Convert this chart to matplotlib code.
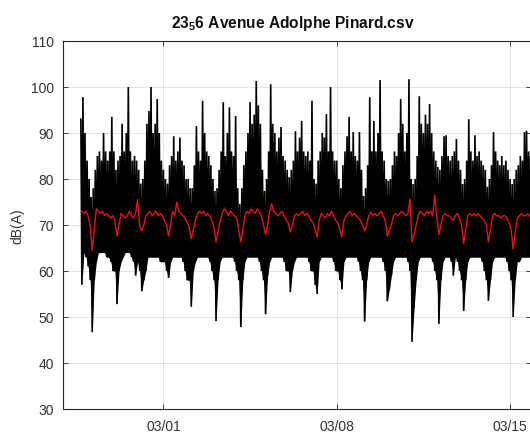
import matplotlib
matplotlib.use("Agg")
import matplotlib.pyplot as plt
import matplotlib.dates as mdates
import numpy as np
from datetime import datetime, timedelta

# ---------------- data (2-hour bins) ----------------
start_time = datetime(2019, 2, 25, 16, 0)
bin_hours = 2

# upper level reached in each 2-hour bin (dB(A))
peak_db = [
    93, 97.8, 90, 84,                                                   # 02/25 16h-22h
    80, 76, 78, 82, 85, 86, 84, 90, 86, 84, 86, 93.5,                   # 02/26
    86, 82, 84, 85, 92, 86, 90, 100, 86, 84, 85, 84,                    # 02/27
    82, 79, 80, 84, 92, 94.8, 100, 90, 92, 97.4, 90, 84,                # 02/28
    82, 80, 79, 83, 85, 89.3, 84, 86, 89, 84, 83, 80,                   # 03/01
    80, 78, 78, 83, 91.5, 86, 84, 97, 90, 86, 85, 83,                   # 03/02
    80, 77.4, 78, 82, 86, 96.7, 85, 90, 95.6, 86, 85, 93.7,             # 03/03
    78, 74.6, 78, 83, 86, 90, 96.7, 92, 94, 101.3, 96, 92,              # 03/04
    82, 77.4, 80, 86, 100.6, 92, 90, 86, 89, 91.3, 85, 84,              # 03/05
    82, 80.4, 82, 84, 90.4, 86, 89, 92.6, 86, 85, 86, 84,               # 03/06
    97, 80, 79, 84, 86, 90, 89, 94.1, 86, 100, 86, 84,                  # 03/07
    84, 80, 78, 83, 86, 89.3, 93.5, 86, 90.2, 85, 84, 90.2,             # 03/08
    82, 76.3, 78, 83, 97.8, 86, 92.6, 86, 90, 101.5, 86, 84,            # 03/09
    80, 79.6, 80, 83, 86, 85, 90, 97.4, 92, 86, 90, 101.7,              # 03/10
    80, 78.9, 80, 85, 98, 92, 90, 94, 92, 96.3, 90, 86,                 # 03/11
    84, 82.6, 82, 85, 89.3, 89.5, 85, 84, 85, 86, 88.7, 84,             # 03/12
    82, 78.9, 80, 84, 93, 86, 84, 89.5, 85, 86, 84, 83,                 # 03/13
    82, 78.3, 80, 83, 90.2, 86, 84, 83, 85, 83, 84, 82,                 # 03/14
    80, 78.9, 80, 82, 83, 85, 84, 90.2, 90.5, 86, 85,                   # 03/15 0h-20h
]

# lowest level in each 2-hour bin (dB(A))
low_db = [
    57, 64, 63, 61,
    58, 46.7, 58, 62, 64, 64, 64, 64, 63, 63, 62, 60,
    60, 52.8, 60, 62, 63, 64, 64, 64, 63, 62, 59, 62,
    60, 55.6, 58, 60, 63, 63, 63, 63, 63, 63, 62, 62,
    62, 60, 58.5, 62, 63, 63, 63, 63, 63, 62, 60, 58,
    58, 52.2, 60, 62, 63, 63, 63, 63, 63, 63, 62, 60,
    58, 49.1, 58, 62, 63, 63, 63, 63, 63, 63, 62, 60,
    58, 47.8, 58, 62, 63, 63, 63, 63, 63, 63, 62, 60,
    58, 50.6, 59, 62, 63, 63, 63, 63, 63, 63, 62, 60,
    60, 55.4, 60, 62, 63, 63, 63, 63, 63, 63, 62, 60,
    60, 57, 55, 62, 63, 63, 63, 63, 63, 63, 62, 60,
    60, 58, 56, 62, 63, 63, 63, 63, 63, 63, 62, 60,
    58, 49, 58, 62, 63, 63, 63, 63, 63, 63, 62, 60,
    53.4, 56, 59, 62, 63, 63, 63, 63, 63, 63, 62, 60,
    44.6, 52, 58, 62, 63, 63, 63, 63, 63, 63, 62, 60,
    58, 48.5, 58, 62, 63, 63, 63, 62, 59, 63, 62, 60,
    58, 51.3, 58, 62, 63, 63, 63, 63, 63, 63, 62, 60,
    58, 53.5, 58, 62, 63, 63, 63, 63, 63, 63, 62, 60,
    58, 50, 58, 62, 62, 63, 63, 63, 63, 63, 62,
]

# smoothed level (red curve) per 2-hour bin (dB(A))
mean_db = [
    73, 72.5, 73, 72,
    70, 64.5, 69, 73.5, 73, 72.5, 73, 72, 72.5, 72, 71.5, 72,
    71, 67.6, 70, 72.5, 72, 71.5, 72, 73, 72, 71.5, 72.5, 75.5,
    70, 68.7, 70, 72, 72.5, 73, 72, 72.5, 73, 72, 72.5, 72,
    71, 70, 67.6, 70, 73, 72, 75, 73, 72.5, 72, 71.5, 70.5,
    69.5, 67, 69, 71, 72.5, 73, 72.5, 73, 72, 72.5, 72, 71,
    69.5, 66.3, 68.5, 71, 72.5, 73.5, 73, 72, 73, 72.5, 72, 71.5,
    69, 66.3, 69, 72, 73, 72.5, 73.5, 73, 72.5, 73.5, 73, 72,
    70, 68, 70, 73, 74.6, 73, 72.5, 72, 72.5, 73, 72, 71,
    70.5, 68.5, 70, 72, 72.5, 72, 72.5, 73, 72, 72.5, 72, 71,
    70.5, 69, 67.4, 71, 72.5, 72, 71.5, 72.5, 72, 73, 72, 71,
    70.5, 69, 67.4, 71, 72, 72.5, 73, 72, 72.5, 72, 71.5, 71,
    70, 68.7, 70, 72, 72.8, 72, 72.5, 72, 72.3, 73, 72, 71,
    67.6, 69, 70, 72, 72.5, 72, 72.5, 73, 72.5, 72, 72.5, 75.7,
    66.3, 68, 70, 72, 73, 72.5, 72, 73, 72.5, 73, 72, 76.5,
    72, 67.9, 70, 72, 72.5, 72, 72, 71.5, 71, 72, 72.5, 71.5,
    70, 65.9, 69, 72, 72.5, 72, 72.5, 72, 72.5, 72, 71.5, 71,
    70, 66.3, 69, 72, 72.5, 72, 72, 71.5, 72, 72, 71.5, 70.5,
    69, 64.8, 68.5, 71.5, 72, 72.5, 72, 72, 72.5, 72, 71.5,
]

tick_dates = [datetime(2019, 3, 1), datetime(2019, 3, 8), datetime(2019, 3, 15)]
title_text = r"23$_{\mathbf{5}}$6 Avenue Adolphe Pinard.csv"
y_label = "dB(A)"

# ---------------- figure ----------------
plt.rcParams['font.family'] = ['Liberation Sans', 'DejaVu Sans']
plt.rcParams['mathtext.fontset'] = 'custom'
plt.rcParams['mathtext.rm'] = 'Liberation Sans'
plt.rcParams['mathtext.bf'] = 'Liberation Sans:bold'

W, H = 530, 435
fig = plt.figure(figsize=(W / 100, H / 100), dpi=100)
ax_left, ax_right = 63, 531
ax_top, ax_bot = 42, 410
ax = fig.add_axes([ax_left / W, 1 - ax_bot / H, (ax_right - ax_left) / W, (ax_bot - ax_top) / H])

peak = np.asarray(peak_db, dtype=float)
low = np.asarray(low_db, dtype=float)
n = len(peak)
t_bins = [start_time + timedelta(hours=bin_hours * i) for i in range(n)]
t_hi = mdates.date2num(t_bins)
t_lo = mdates.date2num([t + timedelta(hours=bin_hours / 2) for t in t_bins])

xs = np.empty(2 * n)
ys = np.empty(2 * n)
xs[0::2] = t_hi
xs[1::2] = t_lo
ys[0::2] = peak
ys[1::2] = low

# dense core of the noisy trace: from each bin's low level up to a little below
# the lower of the two neighbouring peaks (so isolated peaks stay as spikes)
core_top = np.append(np.minimum(peak[:-1], peak[1:]), peak[-1]) - 3
ax.fill_between(t_lo, low, core_top, color='black', lw=0, zorder=2)
ax.plot(xs, ys, color='black', lw=1.2, zorder=2, solid_joinstyle='miter')

ax.plot(t_lo, mean_db, color='#e3121f', lw=1.0, zorder=3)

# axis limits
x0 = mdates.date2num(datetime(2019, 3, 1)) - 4.055
x1 = mdates.date2num(datetime(2019, 3, 1)) + 14.846
ax.set_xlim(x0, x1)
ax.set_ylim(30, 110)
ax.set_yticks(np.arange(30, 111, 10))
ax.set_xticks(mdates.date2num(tick_dates))
ax.xaxis.set_major_formatter(mdates.DateFormatter('%m/%d'))

ax.grid(True, color='#dedede', lw=0.6)
ax.set_axisbelow(True)
for s in ax.spines.values():
    s.set_color('#262626')
    s.set_linewidth(0.8)
ax.tick_params(direction='in', length=3.5, width=0.6, colors='#262626',
               labelcolor='#333333', labelsize=10, top=True, right=True)
ax.tick_params(axis='x', pad=7.5)
ax.tick_params(axis='y', pad=6.5)

fig.text(292.5 / W, 1 - 28 / H, title_text, ha='center', va='baseline',
         fontsize=11.2, fontweight='bold', color='#111111')
fig.text(17 / W, 1 - 226 / H, y_label, rotation=90, ha='center', va='center',
         fontsize=10, color='#333333')

fig.savefig('out.png', dpi=100)
